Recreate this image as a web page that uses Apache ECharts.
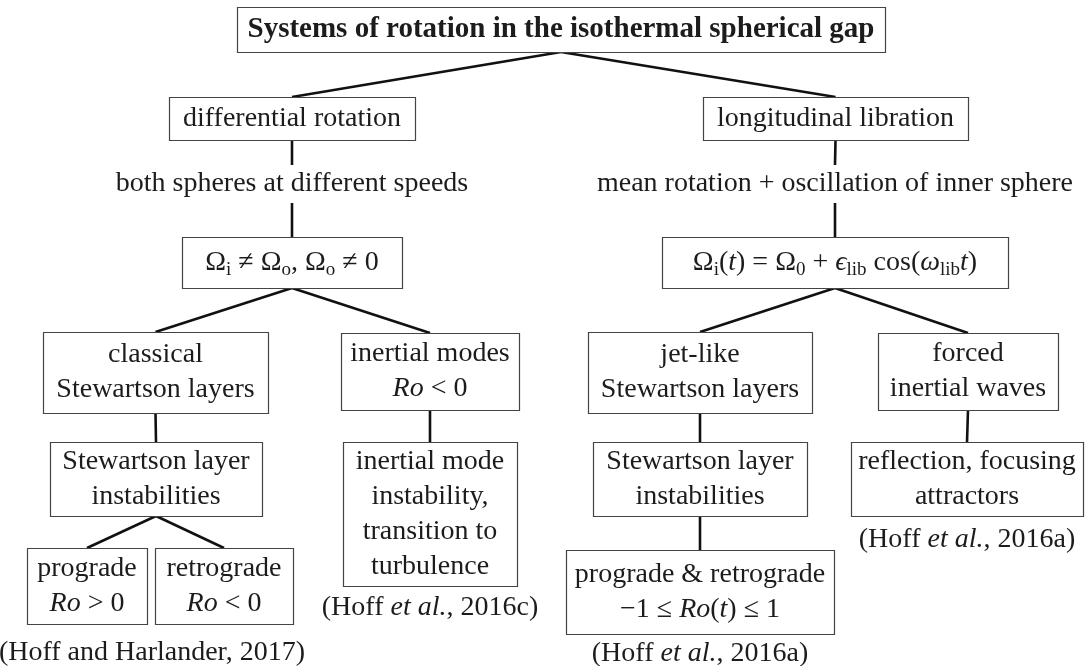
<!DOCTYPE html>
<html><head><meta charset="utf-8">
<script src="https://cdn.jsdelivr.net/npm/echarts@6/dist/echarts.min.js"></script>
<style>html,body{margin:0;padding:0;background:#fff}#c{width:1087px;height:666px}</style>
</head><body><div id="c"></div>
<script>
// ---- content ----
const nodeNames = ['root','diff','diffDesc','diffEq','classic','inModes','stewL','inInst','pro','retro','citeL','citeC',
  'lib','libDesc','libEq','jet','forced','stewR','proRetro','reflect','citeR','citeR2'];
const nodeLabels = [
  '{b|Systems of rotation in the isothermal spherical gap}',
  'differential rotation',
  'both spheres at different speeds',
  'Ω{s|i} ≠ Ω{s|o}, Ω{s|o} ≠ 0',
  'classical\nStewartson layers',
  'inertial modes\n{i|Ro} < 0',
  'Stewartson layer\ninstabilities',
  'inertial mode\ninstability,\ntransition to\nturbulence',
  'prograde\n{i|Ro} > 0',
  'retrograde\n{i|Ro} < 0',
  '(Hoff and Harlander, 2017)',
  '(Hoff {i|et al.}, 2016c)',
  'longitudinal libration',
  'mean rotation + oscillation of inner sphere',
  'Ω{s|i}({i|t}) = Ω{s|0} + {i|ϵ}{s|lib} cos({i|ω}{s|lib}{i|t})',
  'jet-like\nStewartson layers',
  'forced\ninertial waves',
  'Stewartson layer\ninstabilities',
  'prograde & retrograde\n−1 ≤ {i|Ro}({i|t}) ≤ 1',
  'reflection, focusing\nattractors',
  '(Hoff {i|et al.}, 2016a)',
  '(Hoff {i|et al.}, 2016a)'
];
const nodeFramed = [1,1,0,1,1,1,1,1,1,1,0,0,1,0,1,1,1,1,1,1,0,0];
const edgeFrom = ['root','root','diff','diffDesc','diffEq','diffEq','classic','stewL','stewL','inModes','lib','libDesc','libEq','libEq','jet','stewR','forced'];
const edgeTo   = ['diff','lib','diffDesc','diffEq','classic','inModes','stewL','pro','retro','inInst','libDesc','libEq','jet','forced','stewR','proRetro','reflect'];

// ---- layout (centre x, centre y, width, height in chart units) ----
const layoutX = [561, 292, 292, 292, 155.5, 430, 156, 430, 87, 224, 152, 430, 835.5, 835, 835, 700, 968, 700, 700, 967, 700, 967];
const layoutY = [29.5, 118.5, 184, 262.5, 372.5, 371.5, 479, 514, 586, 586, 653, 608, 118.5, 184, 262.5, 372.5, 371.5, 479, 592, 479, 654, 540];
const layoutW = [648, 246, 0, 220, 225, 178, 212, 174, 120, 138, 0, 0, 265, 0, 346, 224, 180, 214, 268, 232, 0, 0];
const layoutH = [45, 43, 38, 51, 81, 77, 74, 144, 76, 76, 30, 30, 43, 38, 51, 81, 77, 74, 84, 74, 30, 30];

const FONT = '"Liberation Serif","Times New Roman",Times,serif';
const INK = '#1c1c1c';
const RICH = {
  b: {fontFamily: FONT, fontSize: 29, fontWeight: 'bold', lineHeight: 35, fill: INK},
  i: {fontFamily: FONT, fontSize: 28, fontStyle: 'italic', lineHeight: 35, fill: INK},
  s: {fontFamily: FONT, fontSize: 19, lineHeight: 19, verticalAlign: 'bottom', fill: INK}
};

const boxData = nodeNames.map((n, k) => [layoutX[k], layoutY[k], layoutW[k], layoutH[k], k]);
const edgeData = edgeFrom.map((f, k) => {
  const a = nodeNames.indexOf(f), b = nodeNames.indexOf(edgeTo[k]);
  return [layoutX[a], layoutY[a] + layoutH[a] / 2, layoutX[b], layoutY[b] - layoutH[b] / 2];
});

const chart = echarts.init(document.getElementById('c'), null, {renderer: 'canvas'});
chart.setOption({
  animation: false,
  backgroundColor: '#ffffff',
  grid: {left: 0, right: 0, top: 0, bottom: 0},
  xAxis: {type: 'value', min: 0, max: 1087, show: false},
  yAxis: {type: 'value', min: 0, max: 666, inverse: true, show: false},
  series: [
    {
      type: 'custom', name: 'edges', z: 1, silent: true,
      data: edgeData,
      renderItem: function (params, api) {
        const p1 = api.coord([api.value(0), api.value(1)]);
        const p2 = api.coord([api.value(2), api.value(3)]);
        return {type: 'line', shape: {x1: p1[0], y1: p1[1], x2: p2[0], y2: p2[1]},
          style: {stroke: '#111', lineWidth: 2.6, lineCap: 'butt'}};
      }
    },
    {
      type: 'custom', name: 'nodes', z: 2, silent: true,
      data: boxData,
      renderItem: function (params, api) {
        const k = api.value(4);
        const c = api.coord([api.value(0), api.value(1)]);
        const s = api.size([api.value(2), api.value(3)]);
        const children = [];
        if (nodeFramed[k]) {
          children.push({type: 'rect',
            shape: {x: Math.round(c[0] - s[0] / 2) + 0.5, y: Math.round(c[1] - s[1] / 2) + 0.5, width: Math.round(s[0]), height: Math.round(s[1])},
            style: {fill: '#fff', stroke: '#444', lineWidth: 1.2}});
        }
        children.push({type: 'text',
          style: {x: c[0], y: c[1], text: nodeLabels[k], align: 'center', verticalAlign: 'middle',
            fontFamily: FONT, fontSize: 28, lineHeight: 35, fill: INK, rich: RICH}});
        return {type: 'group', children: children};
      }
    }
  ]
});
</script>
</body></html>
